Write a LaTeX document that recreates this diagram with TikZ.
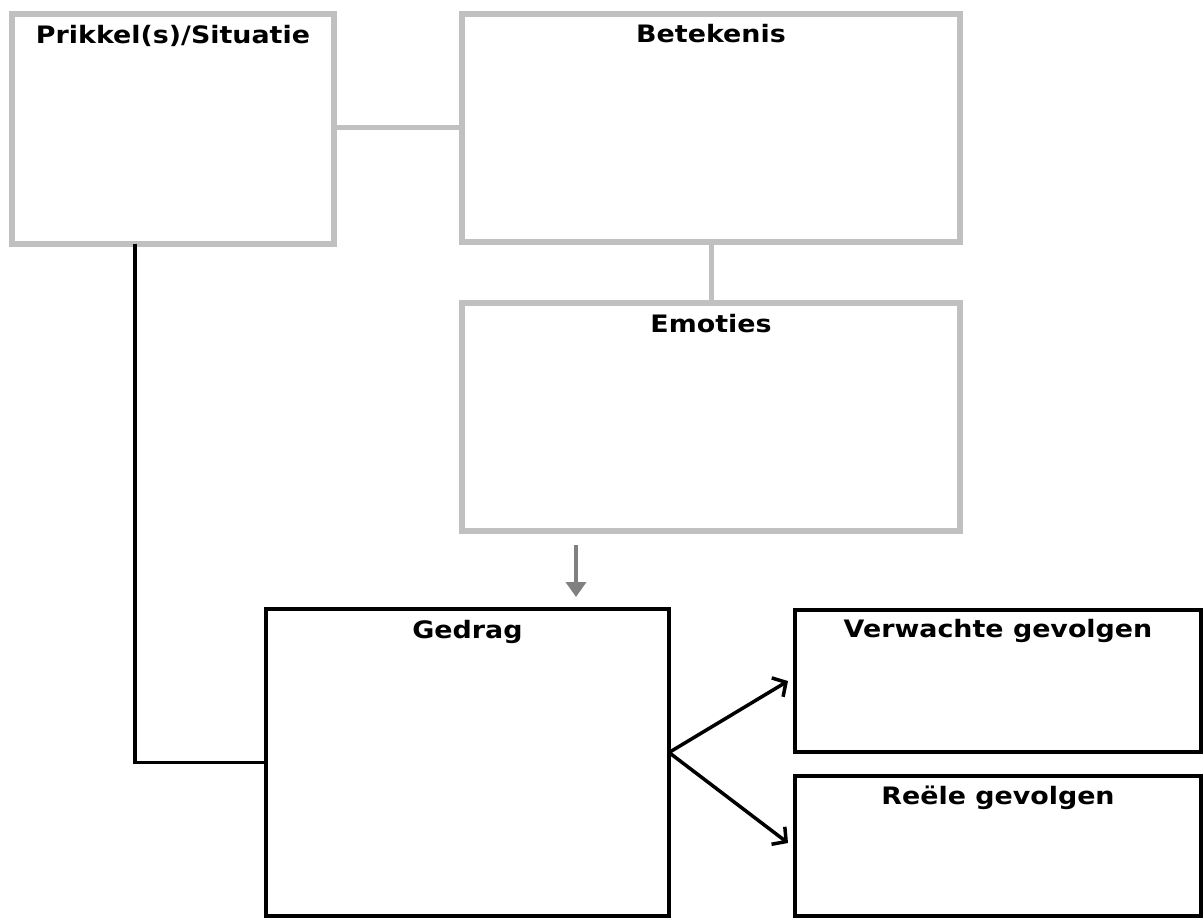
\documentclass[tikz,border=0pt]{standalone}
\usepackage{fontspec}
\newfontfamily\boxfont{DejaVu Sans}[FakeStretch=1.12]
\usetikzlibrary{arrows.meta}

\definecolor{boxgray}{RGB}{192,192,192}
\definecolor{arrowgray}{RGB}{128,128,128}

\begin{document}
\begin{tikzpicture}[x=1pt,y=-1pt,
  graybox/.style={draw=boxgray,line width=6pt,fill=white,inner sep=0pt,outer sep=0pt},
  blackbox/.style={draw=black,line width=3.5pt,fill=white,inner sep=0pt,outer sep=0pt},
  grayline/.style={draw=boxgray,line width=5pt},
  blackline/.style={draw=black,line width=3.5pt},
  title/.style={anchor=base,inner sep=0pt,font=\boxfont\bfseries\fontsize{24}{28}\selectfont}]

\useasboundingbox (0,0) rectangle (1204,920);

% boxes
\node[graybox,minimum width=322pt,minimum height=229pt] (prikkel) at (173,129) {};
\node[graybox,minimum width=498pt,minimum height=228pt] (betekenis) at (711,128) {};
\node[graybox,minimum width=498pt,minimum height=228pt] (emoties) at (711,417) {};
\node[blackbox,minimum width=403pt,minimum height=307pt] (gedrag) at (467.5,762.5) {};
\node[blackbox,minimum width=406pt,minimum height=142pt] (verwacht) at (998,681) {};
\node[blackbox,minimum width=406pt,minimum height=140pt] (reeel) at (998,846) {};

% titles
\node[title] (prikkel-t) at ([yshift=-29pt]prikkel.north) {Prikkel(s)/Situatie};
\node[title] (betekenis-t) at ([yshift=-29pt]betekenis.north) {Betekenis};
\node[title] (emoties-t) at ([yshift=-29.5pt]emoties.north) {Emoties};
\node[title] (gedrag-t) at ([yshift=-29.5pt]gedrag.north) {Gedrag};
\node[title] (verwacht-t) at ([yshift=-27.5pt]verwacht.north) {Verwachte gevolgen};
\node[title] (reeel-t) at ([yshift=-28.5pt]reeel.north) {Reële gevolgen};

% connectors
\draw[grayline] (betekenis.west) -- (betekenis.west -| prikkel.east);
\draw[grayline] (betekenis.south) -- (emoties.north);

\coordinate (bend) at (135,0);
\draw[blackline] (bend |- prikkel.south) -- (bend |- gedrag.west) -- (gedrag.west);

\coordinate (pijl-a) at (576,545);
\coordinate (pijl-b) at (576,597);
\draw[draw=arrowgray,line width=4.5pt,-{Triangle[length=15pt,width=20pt]}] (pijl-a) -- (pijl-b);

\draw[blackline,-{Straight Barb[length=10pt,width=22pt]}] ([yshift=10pt]gedrag.east) -- ([xshift=-7pt]verwacht.west);
\draw[blackline,-{Straight Barb[length=10pt,width=22pt]}] ([yshift=10pt]gedrag.east) -- ([xshift=-7pt,yshift=3pt]reeel.west);

\end{tikzpicture}
\end{document}
